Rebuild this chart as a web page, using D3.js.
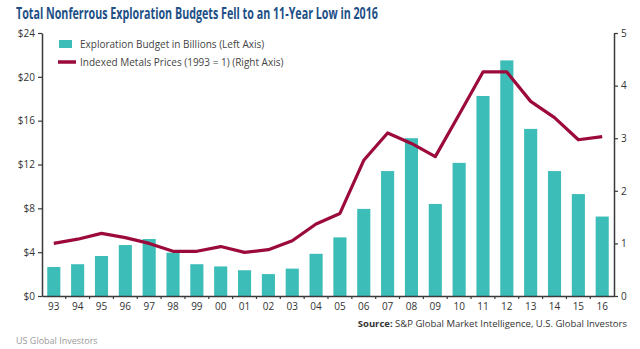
<!DOCTYPE html>
<html>
<head>
<meta charset="utf-8">
<script src="https://cdn.jsdelivr.net/npm/d3@7"></script>
<style>
  body { margin: 0; background: #fff; }
  svg { display: block; font-family: "Open Sans", "Noto Sans", sans-serif; }
</style>
</head>
<body>
<div id="chart"></div>
<script>
// Data
var years = ["93","94","95","96","97","98","99","00","01","02","03","04","05","06","07","08","09","10","11","12","13","14","15","16"];
var budget = [2.65, 2.9, 3.65, 4.65, 5.2, 3.95, 2.9, 2.7, 2.35, 2.0, 2.5, 3.85, 5.35, 7.95, 11.4, 14.4, 8.4, 12.15, 18.25, 21.5, 15.25, 11.4, 9.3, 7.25];
var metals = [1.0, 1.08, 1.19, 1.11, 1.0, 0.85, 0.85, 0.94, 0.83, 0.88, 1.05, 1.37, 1.57, 2.58, 3.1, 2.9, 2.65, 3.45, 4.26, 4.26, 3.7, 3.39, 2.97, 3.03];
var leftTicks = [0, 4, 8, 12, 16, 20, 24];
var rightTicks = [0, 1, 2, 3, 4, 5];

var svgWidth = 640;
var svgHeight = 349;

var margin = { top: 33, right: 26, bottom: 53, left: 42 };
var width = svgWidth - margin.left - margin.right;
var height = svgHeight - margin.top - margin.bottom;

var teal = "#3dbdb8";
var crimson = "#9c0a3c";
var axisColor = "#3a3a3a";

var svg = d3.select("#chart")
  .append("svg")
  .attr("width", svgWidth)
  .attr("height", svgHeight);

// Title
svg.append("text")
  .attr("x", 16)
  .attr("y", 19)
  .attr("fill", "#1d4f86")
  .style("font-size", "16px")
  .style("font-weight", "bold")
  .attr("textLength", 362)
  .attr("lengthAdjust", "spacingAndGlyphs")
  .text("Total Nonferrous Exploration Budgets Fell to an 11-Year Low in 2016");

var chartGroup = svg.append("g")
  .attr("transform", `translate(${margin.left}, ${margin.top})`);

// Scales
var xScale = d3.scaleBand()
  .domain(years)
  .range([0, width])
  .paddingInner(0.45)
  .paddingOuter(0.22);

var yLeft = d3.scaleLinear()
  .domain([0, 24])
  .range([height, 0]);

var yRight = d3.scaleLinear()
  .domain([0, 5])
  .range([height, 0]);

// Bars
chartGroup.selectAll("rect.bar")
  .data(budget)
  .enter()
  .append("rect")
  .attr("class", "bar")
  .attr("x", (d, i) => xScale(years[i]))
  .attr("y", d => yLeft(d))
  .attr("width", xScale.bandwidth())
  .attr("height", d => height - yLeft(d))
  .attr("fill", teal);

// Line
var line = d3.line()
  .x((d, i) => xScale(years[i]) + xScale.bandwidth() / 2)
  .y(d => yRight(d));

chartGroup.append("path")
  .datum(metals)
  .attr("d", line)
  .attr("fill", "none")
  .attr("stroke", crimson)
  .attr("stroke-width", 3.2)
  .attr("stroke-linejoin", "round");

// Axes
var leftAxis = d3.axisLeft(yLeft)
  .tickValues(leftTicks)
  .tickSize(4)
  .tickSizeOuter(0)
  .tickFormat(d => "$" + d);

var rightAxis = d3.axisRight(yRight)
  .tickValues(rightTicks)
  .tickSize(4)
  .tickSizeOuter(0)
  .tickFormat(d3.format("d"));

var gLeft = chartGroup.append("g").call(leftAxis);
var gRight = chartGroup.append("g")
  .attr("transform", `translate(${width}, 0)`)
  .call(rightAxis);

[gLeft, gRight].forEach(function(g) {
  g.select(".domain").attr("stroke", axisColor).attr("stroke-width", 1.5);
  g.selectAll(".tick line").attr("stroke", axisColor).attr("stroke-width", 1.2);
  g.selectAll(".tick text")
    .attr("fill", "#333")
    .style("font-size", "10px")
    .style("font-family", "'Liberation Sans Narrow', 'Open Sans', sans-serif");
});

// Bottom axis: labels under bars, ticks between categories
var bottomAxis = d3.axisBottom(xScale)
  .tickSize(0)
  .tickSizeOuter(0)
  .tickPadding(7);

var gBottom = chartGroup.append("g")
  .attr("transform", `translate(0, ${height})`)
  .call(bottomAxis);

gBottom.select(".domain").attr("stroke", axisColor).attr("stroke-width", 1.5);
gBottom.selectAll(".tick text")
  .attr("fill", "#333")
  .style("font-size", "10px")
  .style("font-family", "'Liberation Sans Narrow', 'Open Sans', sans-serif");

var step = xScale.step();
gBottom.selectAll("line.sep")
  .data(years.slice(1))
  .enter()
  .append("line")
  .attr("class", "sep")
  .attr("x1", d => xScale(d) - (step - xScale.bandwidth()) / 2)
  .attr("x2", d => xScale(d) - (step - xScale.bandwidth()) / 2)
  .attr("y1", 0)
  .attr("y2", 3)
  .attr("stroke", axisColor)
  .attr("stroke-width", 1.2);

// Legend
var legend = chartGroup.append("g")
  .attr("transform", "translate(16, 7)");

legend.append("rect")
  .attr("x", 1)
  .attr("y", 0)
  .attr("width", 13)
  .attr("height", 8)
  .attr("fill", teal);

legend.append("text")
  .attr("x", 22)
  .attr("y", 8)
  .attr("fill", "#444")
  .style("font-size", "10px")
  .text("Exploration Budget in Billions (Left Axis)");

legend.append("line")
  .attr("x1", 0)
  .attr("x2", 18)
  .attr("y1", 22)
  .attr("y2", 22)
  .attr("stroke", crimson)
  .attr("stroke-width", 3.5);

legend.append("text")
  .attr("x", 22)
  .attr("y", 26)
  .attr("fill", "#444")
  .style("font-size", "10px")
  .text("Indexed Metals Prices (1993 = 1) (Right Axis)");

// Source and footer
var source = svg.append("text")
  .attr("x", 627)
  .attr("y", 327)
  .attr("text-anchor", "end")
  .attr("fill", "#333")
  .style("font-size", "9.5px");

source.append("tspan")
  .style("font-weight", "bold")
  .text("Source:");

source.append("tspan")
  .text(" S&P Global Market Intelligence, U.S. Global Investors");

svg.append("text")
  .attr("x", 16)
  .attr("y", 344)
  .attr("fill", "#999")
  .style("font-size", "9px")
  .text("US Global Investors");
</script>
</body>
</html>
